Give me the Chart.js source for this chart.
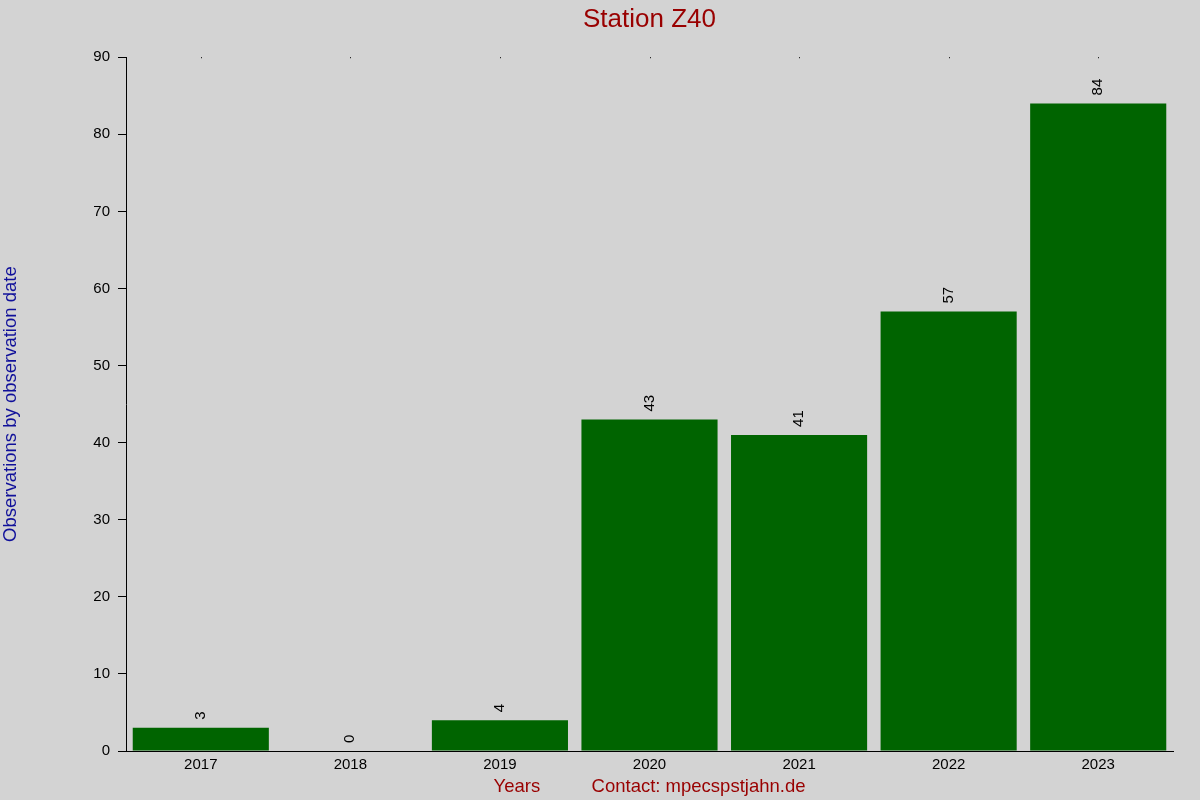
<!DOCTYPE html>
<html>
<head>
<meta charset="utf-8">
<script src="https://cdn.jsdelivr.net/npm/chart.js@4"></script>
<style>
  html, body { margin: 0; padding: 0; background: #d3d3d3; }
  #wrap { width: 1200px; height: 800px; }
</style>
</head>
<body>
<div id="wrap"><canvas id="chart" width="1200" height="800"></canvas></div>
<script>
// data
const years = ["2017", "2018", "2019", "2020", "2021", "2022", "2023"];
const counts = [3, 0, 4, 43, 41, 57, 84];
const yTicks = [0, 10, 20, 30, 40, 50, 60, 70, 80, 90];

const FONT = "'Liberation Sans', Arial, sans-serif";

// value labels above bars (rotated) + small dots at top of plot
const barLabels = {
  id: "barLabels",
  afterDatasetsDraw(chart) {
    const ctx = chart.ctx;
    const xs = chart.scales.x;
    const ys = chart.scales.y;
    ctx.save();
    ctx.font = "15px " + FONT;
    ctx.fillStyle = "#000";
    ctx.textAlign = "left";
    ctx.textBaseline = "middle";
    counts.forEach((v, i) => {
      const x = xs.getPixelForValue(i);
      const y = ys.getPixelForValue(v);
      ctx.save();
      ctx.translate(x, y - 8);
      ctx.rotate(-Math.PI / 2);
      ctx.fillText(String(v), 0, 0);
      ctx.restore();
      // tiny dot at the top
      ctx.fillRect(Math.round(x), chart.chartArea.top, 1, 1);
    });
    ctx.restore();
  }
};

new Chart(document.getElementById("chart"), {
  type: "bar",
  data: {
    labels: years,
    datasets: [{
      data: counts,
      backgroundColor: "#006400",
      borderWidth: 0,
      barPercentage: 1,
      categoryPercentage: 0.91
    }]
  },
  options: {
    responsive: false,
    animation: false,
    layout: { padding: { top: 0, right: 27, bottom: 0, left: 0 } },
    plugins: {
      legend: { display: false },
      tooltip: { enabled: false },
      title: {
        display: true,
        text: "Station Z40",
        color: "#990000",
        fullSize: false,
        font: { family: FONT, size: 26, weight: "normal" },
        padding: { top: 4, bottom: 22 }
      }
    },
    scales: {
      x: {
        grid: { display: false, drawTicks: false, tickLength: 0 },
        border: { display: true, color: "#000", width: 1 },
        ticks: {
          color: "#000",
          padding: 5,
          font: { family: FONT, size: 15 }
        },
        title: {
          display: true,
          text: "Years          Contact: mpecspstjahn.de",
          color: "#990000",
          font: { family: FONT, size: 18.5 },
          padding: { top: 2, bottom: 2 }
        },
        afterFit(scale) { scale.height = 49; }
      },
      y: {
        min: 0,
        max: 90,
        afterBuildTicks(scale) { scale.ticks = yTicks.map(v => ({ value: v })); },
        grid: {
          display: true,
          drawOnChartArea: false,
          drawTicks: true,
          tickLength: 8,
          color: "#000"
        },
        border: { display: true, color: "#000", width: 1 },
        ticks: {
          color: "#000",
          padding: 8,
          font: { family: FONT, size: 15 }
        },
        title: {
          display: true,
          text: "Observations by observation date",
          color: "#10109a",
          font: { family: FONT, size: 18.5 },
          padding: { top: 0, bottom: 0 }
        },
        afterFit(scale) { scale.width = 126; }
      }
    }
  },
  plugins: [barLabels]
});
</script>
</body>
</html>
